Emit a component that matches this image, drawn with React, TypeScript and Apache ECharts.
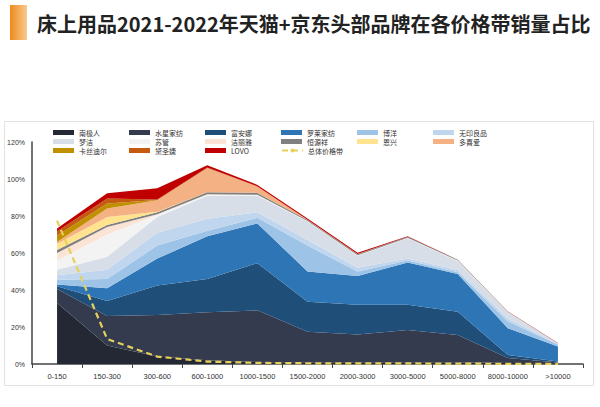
import React, { useEffect, useRef } from "react";
import * as echarts from "echarts";

const categories = ["0-150", "150-300", "300-600", "600-1000", "1000-1500", "1500-2000", "2000-3000", "3000-5000", "5000-8000", "8000-10000", ">10000"];

const brandNames = ["南极人", "水星家纺", "富安娜", "罗莱家纺", "博洋", "无印良品", "梦洁", "苏管", "洁丽雅", "恒源祥", "恩兴", "多喜爱", "卡丝迪尔", "黛圣婕", "LOVO"];

const nanjiren = [33, 10, 4, 2, 1, 1, 1, 1, 1, 0.5, 0.3];
const shuixing = [7.5, 16, 22.5, 26, 28, 16.5, 15, 17.4, 14.7, 2.7, 0.5];
const fuanna = [1.5, 8, 16, 18, 25.5, 16.2, 16, 13.6, 12.6, 1.7, 0.5];
const luolai = [1, 7, 14.5, 23, 21.5, 16.3, 15.6, 22.8, 20.3, 14.4, 8.1];
const boyang = [2.5, 5, 7, 3, 3, 14, 2.4, 1.2, 1, 3.7, 1.1];
const wuyin = [2.5, 5, 7, 6.5, 3, 3, 2, 1, 1.2, 1.5, 0.3];
const mengjie = [3, 7, 8.5, 12.5, 9, 10, 6.5, 11, 4.8, 3.5, 0.3];
const suguan = [5, 12, 1, 0.5, 0.3, 0.2, 0.2, 0.2, 0.2, 0.1, 0];
const jieliya = [4, 4, 0.5, 0.3, 0.2, 0.1, 0.1, 0.1, 0.1, 0, 0];
const hengyuanxiang = [1.6, 1.2, 1, 1, 1, 0.5, 0.5, 0.5, 0.4, 0.2, 0.1];
const enxing = [3.4, 4.3, 0.3, 0, 0, 0, 0, 0, 0, 0, 0];
const duoxiai = [1, 4.5, 6.2, 13.2, 3.5, 0.2, 0.2, 0, 0, 0, 0];
const kasidier = [3.5, 2.8, 0.2, 0, 0, 0, 0, 0, 0, 0, 0];
const daishengjie = [2.3, 2.7, 0.2, 0.2, 0, 0, 0, 0, 0, 0, 0];
const lovo = [1.5, 2.8, 6.1, 1.3, 0.8, 0.6, 0.7, 0.2, 0.1, 0.1, 0.1];

const overallName = "总体价格带";
const overall = [77.5, 13.5, 4, 1.3, 0.6, 0.4, 0.3, 0.3, 0.2, 0.1, 0.1];

const brandValues = [nanjiren, shuixing, fuanna, luolai, boyang, wuyin, mengjie, suguan, jieliya, hengyuanxiang, enxing, duoxiai, kasidier, daishengjie, lovo];

const brandColors = ["#232834", "#353b4f", "#1f4e79", "#2e75b6", "#9dc3e6", "#bfd6ee", "#d8dee7", "#f3f3f3", "#fbe4d5", "#808080", "#ffe38f", "#f4b183", "#c09000", "#c55a11", "#c00000"];

const yTicks = [0, 20, 40, 60, 80, 100, 120];

const title = "床上用品2021-2022年天猫+京东头部品牌在各价格带销量占比";

export default function App() {
  const ref = useRef<HTMLDivElement>(null);
  useEffect(() => {
    if (!ref.current) return;
    const chart = echarts.init(ref.current, null, { renderer: "svg" });
    const series: any[] = brandNames.map((name, i) => ({
      name,
      type: "line",
      stack: "total",
      data: brandValues[i],
      symbol: "none",
      lineStyle: { width: 0 },
      areaStyle: { color: brandColors[i], opacity: 1 },
      itemStyle: { color: brandColors[i] },
      z: 2,
    }));
    series.push({
      name: overallName,
      type: "line",
      data: overall,
      symbol: "none",
      lineStyle: { color: "#e6d05c", width: 2.2, type: [6, 4] },
      itemStyle: { color: "#e6d05c" },
      z: 5,
    });
    chart.setOption({
      animation: false,
      backgroundColor: "#ffffff",
      graphic: [
        {
          type: "rect",
          z: -10,
          silent: true,
          shape: { x: 4.5, y: 121.5, width: 589, height: 264 },
          style: { fill: "#ffffff", stroke: "#e2e2e2", lineWidth: 1 },
        },
        {
          type: "rect",
          shape: { x: 10, y: 5, width: 17, height: 35 },
          style: {
            fill: new echarts.graphic.LinearGradient(0, 0, 1, 0, [
              { offset: 0, color: "#ee8a1c" },
              { offset: 1, color: "#f9c98e" },
            ]),
          },
        },
        {
          type: "text",
          x: 37,
          y: 23,
          style: {
            text: title,
            font: "bold 20px 'Noto Sans CJK SC', sans-serif",
            fill: "#222222",
            textVerticalAlign: "middle",
          },
        },
      ],
      legend: {
        left: 48,
        top: 123,
        width: 460,
        itemWidth: 21,
        itemHeight: 5,
        itemGap: 0,
        textStyle: {
          fontSize: 7,
          color: "#333",
          width: 50,
          lineHeight: 9,
          fontFamily: "'Noto Sans CJK SC', sans-serif",
        },
        data: [
          ...brandNames.map((n) => ({ name: n, icon: "rect" })),
          { name: overallName },
        ],
      },
      grid: { left: 32, right: 17, top: 142, bottom: 43 },
      xAxis: {
        type: "category",
        data: categories,
        boundaryGap: true,
        axisLine: { lineStyle: { color: "#444", width: 1.5 } },
        axisTick: { show: true, length: 4, lineStyle: { color: "#444" } },
        axisLabel: { fontSize: 7.5, color: "#333", margin: 8, interval: 0 },
      },
      yAxis: {
        type: "value",
        min: 0,
        max: 120,
        interval: 20,
        axisLine: { show: true, lineStyle: { color: "#444", width: 1.5 } },
        axisTick: { show: false },
        splitLine: { show: false },
        axisLabel: {
          fontSize: 7,
          color: "#333",
          margin: 7,
          formatter: (v: number) => (yTicks.includes(v) ? v + "%" : ""),
        },
      },
      series,
    });
    return () => chart.dispose();
  }, []);
  return (
    <div
      ref={ref}
      style={{ position: "fixed", left: 0, top: 0, width: 600, height: 407 }}
    />
  );
}
